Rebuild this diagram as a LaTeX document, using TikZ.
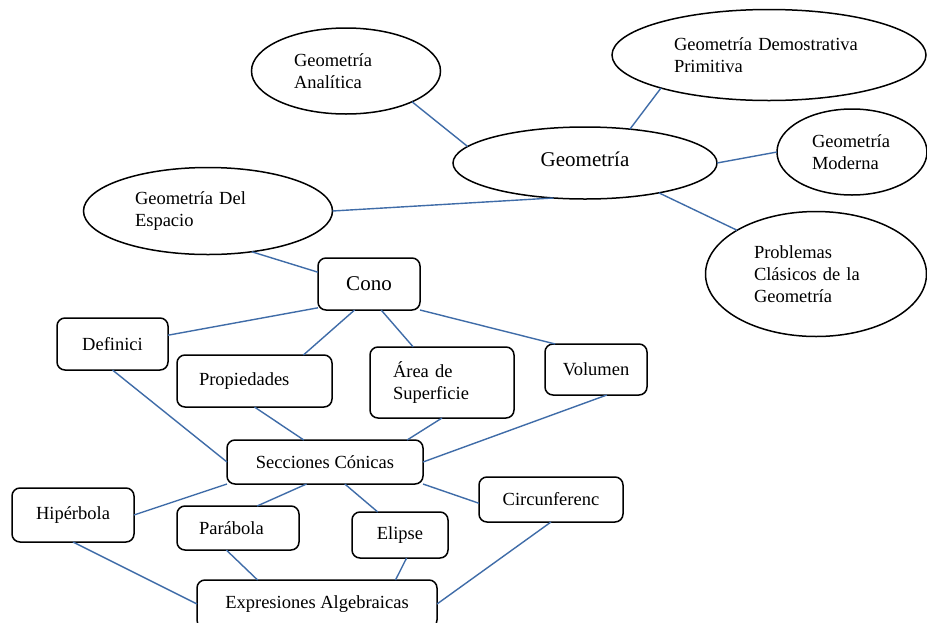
\documentclass[tikz,border=0pt]{standalone}
\usepackage{fontspec}
\setmainfont{Liberation Serif}
\usetikzlibrary{shapes.geometric}
\definecolor{conn}{HTML}{3F6CA8}
\tikzset{
  oval/.style={draw=black, line width=1.5pt, ellipse, inner sep=0pt, outer sep=0pt,
    font=\fontsize{18.5}{22}\selectfont, align=left},
  box/.style={draw=black, line width=1.5pt, rectangle, rounded corners=8pt, inner sep=0pt,
    outer sep=0pt, font=\fontsize{18.5}{22}\selectfont, align=center},
  link/.style={draw=conn, line width=1.4pt}
}
\begin{document}
\begin{tikzpicture}[x=1pt,y=-1pt]
\useasboundingbox[fill=white] (0,0) rectangle (927,622);
% ellipses
\node[oval, minimum width=189pt, minimum height=86pt, text width=104pt] (ana) at (346,71) {Geometría\\Analítica};
\node[oval, minimum width=314pt, minimum height=91pt, text width=190pt] (dem) at (769,55) {Geometría Demostrativa\\Primitiva};
\node[oval, minimum width=264pt, minimum height=72pt, font=\fontsize{21}{25}\selectfont, text height=11pt, text depth=5pt] (geo) at (585,163) {Geometría};
\node[oval, minimum width=150pt, minimum height=86pt, text width=80pt] (mod) at (852,152) {Geometría\\Moderna};
\node[oval, minimum width=249pt, minimum height=87pt, text width=146pt] (esp) at (208,211) {Geometría Del\\Espacio};
\node[oval, minimum width=221pt, minimum height=125pt, text width=124pt] (prob) at (816,274) {Problemas\\Clásicos de la\\Geometría};
% boxes
\node[box, minimum width=102pt, minimum height=52pt, font=\fontsize{21}{25}\selectfont] (cono) at (369,284) {Cono};
\node[box, minimum width=111pt, minimum height=52pt] (defi) at (112.5,344) {Definici};
\node[box, minimum width=155pt, minimum height=52pt, text width=111pt, align=left] (prop) at (254.5,381) {Propiedades};
\node[box, minimum width=144pt, minimum height=71pt, text width=98pt, align=left] (area) at (442,382.5) {Área de\\Superficie};
\node[box, minimum width=102pt, minimum height=51pt] (vol) at (596,369.5) {Volumen};
\node[box, minimum width=196pt, minimum height=44pt] (sec) at (325,462) {Secciones Cónicas};
\node[box, minimum width=122pt, minimum height=54pt] (hip) at (73,515) {Hipérbola};
\node[box, minimum width=122pt, minimum height=44pt, text width=78pt, align=left] (par) at (238,528) {Parábola};
\node[box, minimum width=96pt, minimum height=46pt] (eli) at (400,535) {Elipse};
\node[box, minimum width=144pt, minimum height=45pt] (circ) at (551,499.5) {Circunferenc};
\node[box, minimum width=240pt, minimum height=48pt] (expr) at (317,604) {Expresiones Algebraicas};
% connectors
\draw[link] (ana.-25) -- (geo.172);
\draw[link] (dem.197) -- (geo.37);
\draw[link] (geo.east) -- (mod.west);
\draw[link] (geo.-22) -- (prob.151);
\draw[link] (geo.228) -- (esp.east);
\draw[link] (esp.-43) -- (cono.167);
\draw[link] (cono.205) -- (defi.9);
\draw[link] (cono.241) -- (prop.28);
\draw[link] (cono.-65) -- (area.129);
\draw[link] (cono.-27) -- (vol.148);
\draw[link] (defi.south) -- (sec.west);
\draw[link] (prop.south) -- (sec.134);
\draw[link] (area.south) -- (sec.15);
\draw[link] (vol.-67.5) -- (sec.east);
\draw[link] (sec.south west) -- (hip.east);
\draw[link] (sec.-130) -- (par.49);
\draw[link] (sec.-48) -- (eli.134);
\draw[link] (sec.south east) -- (circ.183);
\draw[link] (hip.south) -- (expr.west);
\draw[link] (par.-118) -- (expr.158);
\draw[link] (eli.-74) -- (expr.17);
\draw[link] (circ.south) -- (expr.east);
\end{tikzpicture}
\end{document}
